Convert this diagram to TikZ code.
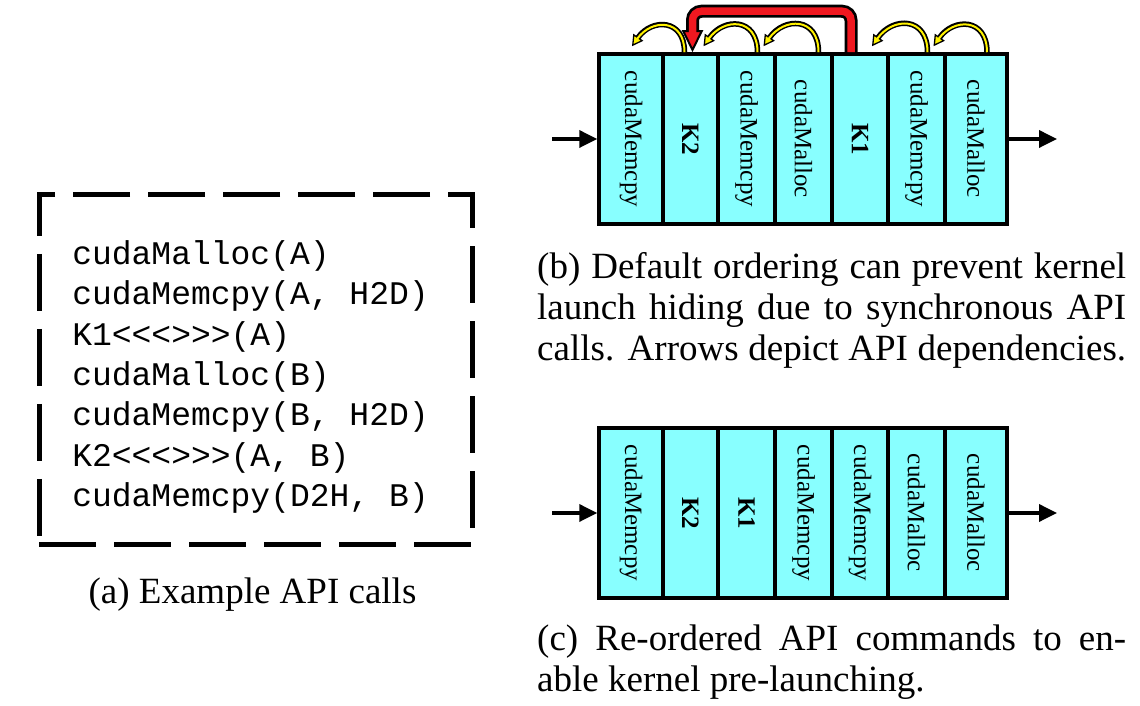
\documentclass[tikz,border=0pt]{standalone}
\usepackage{fontspec}
\setmainfont{Liberation Serif}
\setmonofont{Liberation Mono}
\usetikzlibrary{arrows.meta}
\definecolor{cellcyan}{RGB}{136,255,255}
\definecolor{depred}{RGB}{240,24,32}
\newcommand{\vtext}[1]{\rotatebox{-90}{#1}}

\begin{document}
\begin{tikzpicture}[x=1pt, y=1pt, >={Triangle[length=18pt,width=17pt]}]
    \tikzstyle{cell}=[draw, line width=3.5pt, fill=cellcyan, minimum height=170pt, inner sep=0pt, font=\fontsize{25}{28}\selectfont]
    \tikzstyle{flow}=[->, line width=3.5pt]
    \tikzstyle{depline}=[line width=5.5pt, -{Triangle[length=11pt,width=12pt,fill=yellow,line width=1.3pt]}]
    \tikzstyle{depcore}=[line width=2pt, yellow, shorten >=9pt]
    \tikzstyle{codebox}=[draw, line width=5pt, dash pattern=on 57pt off 18pt, minimum width=433pt, minimum height=350pt, align=left, font=\ttfamily\fontsize{33}{40.3}\selectfont]
    \tikzstyle{capline}=[anchor=base west, inner sep=0pt, font=\fontsize{37}{41}\selectfont]
    \useasboundingbox (0,0) rectangle (1140,706);
    % (a) the API calls
    \node[codebox] (code) at (255.5,336) {\rule{0pt}{38pt}cudaMalloc(A)\\cudaMemcpy(A, H2D)\rule{10pt}{0pt}\\K1<<<>>>(A)\\cudaMalloc(B)\\cudaMemcpy(B, H2D)\\K2<<<>>>(A, B)\\cudaMemcpy(D2H, B)};
    \node[capline, anchor=base] (capa) at (252.5,102) {(a) Example API calls};
    % (b) default ordering
    \node[cell, minimum width=64pt] (b1) at (631,567) {\vtext{cudaMemcpy}};
    \node[cell, minimum width=55pt] (b2) at (690.5,567) {\vtext{\textbf{K2}}};
    \node[cell, minimum width=57pt] (b3) at (746.5,567) {\vtext{cudaMemcpy}};
    \node[cell, minimum width=57pt] (b4) at (803.5,567) {\vtext{cudaMalloc}};
    \node[cell, minimum width=56pt] (b5) at (860,567) {\vtext{\textbf{K1}}};
    \node[cell, minimum width=57pt] (b6) at (916.5,567) {\vtext{cudaMemcpy}};
    \node[cell, minimum width=62pt] (b7) at (976,567) {\vtext{cudaMalloc}};
    \coordinate (bin) at (552,567);
    \coordinate (bout) at (1057,567);
    \draw[flow] (bin) -- (b1.west); \draw[flow] (b7.east) -- (bout);
    % API dependencies
    \draw[depline] ([xshift=-6pt]b2.north) to[out=90, in=55, looseness=1.65] ([xshift=1pt,yshift=6pt]b1.north);
    \draw[depcore] ([xshift=-6pt]b2.north) to[out=90, in=55, looseness=1.65] ([xshift=1pt,yshift=6pt]b1.north);
    \draw[depline] ([xshift=11pt]b3.north) to[out=90, in=55, looseness=1.65] ([xshift=13pt,yshift=6pt]b2.north);
    \draw[depcore] ([xshift=11pt]b3.north) to[out=90, in=55, looseness=1.65] ([xshift=13pt,yshift=6pt]b2.north);
    \draw[depline] ([xshift=15pt]b4.north) to[out=90, in=55, looseness=1.65] ([xshift=17pt,yshift=6pt]b3.north);
    \draw[depcore] ([xshift=15pt]b4.north) to[out=90, in=55, looseness=1.65] ([xshift=17pt,yshift=6pt]b3.north);
    \draw[depline] ([xshift=11pt]b6.north) to[out=90, in=55, looseness=1.65] ([xshift=12pt,yshift=6pt]b5.north);
    \draw[depcore] ([xshift=11pt]b6.north) to[out=90, in=55, looseness=1.65] ([xshift=12pt,yshift=6pt]b5.north);
    \draw[depline] ([xshift=11pt]b7.north) to[out=90, in=55, looseness=1.65] ([xshift=17pt,yshift=6pt]b6.north);
    \draw[depcore] ([xshift=11pt]b7.north) to[out=90, in=55, looseness=1.65] ([xshift=17pt,yshift=6pt]b6.north);
    \draw[line width=13pt, rounded corners=9pt, -{Triangle[length=22pt,width=21pt,fill=depred,line width=2pt]}] ([xshift=-9pt]b5.north) -- ++(0,41) -| ([xshift=2pt]b2.north);
    \draw[line width=7.5pt, depred, rounded corners=9pt, shorten >=18pt] ([xshift=-9pt]b5.north) -- ++(0,41) -| ([xshift=2pt]b2.north);
    \node[capline] (capb1) at (537,427) {\makebox[589pt][s]{(b) Default ordering can prevent kernel}};
    \node[capline] (capb2) at (537,386) {\makebox[589pt][s]{launch hiding due to synchronous API}};
    \node[capline] (capb3) at (537,345) {\makebox[589pt][s]{calls. Arrows depict API dependencies.}};
    % (c) re-ordered
    \node[cell, minimum width=64pt] (c1) at (631,193) {\vtext{cudaMemcpy}};
    \node[cell, minimum width=55pt] (c2) at (690.5,193) {\vtext{\textbf{K2}}};
    \node[cell, minimum width=57pt] (c3) at (746.5,193) {\vtext{\textbf{K1}}};
    \node[cell, minimum width=57pt] (c4) at (803.5,193) {\vtext{cudaMemcpy}};
    \node[cell, minimum width=56pt] (c5) at (860,193) {\vtext{cudaMemcpy}};
    \node[cell, minimum width=57pt] (c6) at (916.5,193) {\vtext{cudaMalloc}};
    \node[cell, minimum width=62pt] (c7) at (976,193) {\vtext{cudaMalloc}};
    \coordinate (cin) at (552,193);
    \coordinate (cout) at (1057,193);
    \draw[flow] (cin) -- (c1.west); \draw[flow] (c7.east) -- (cout);
    \node[capline] (capc1) at (537,55) {\makebox[589pt][s]{(c) Re-ordered API commands to en-}};
    \node[capline] (capc2) at (537,14) {able kernel pre-launching.};
\end{tikzpicture}
\end{document}
